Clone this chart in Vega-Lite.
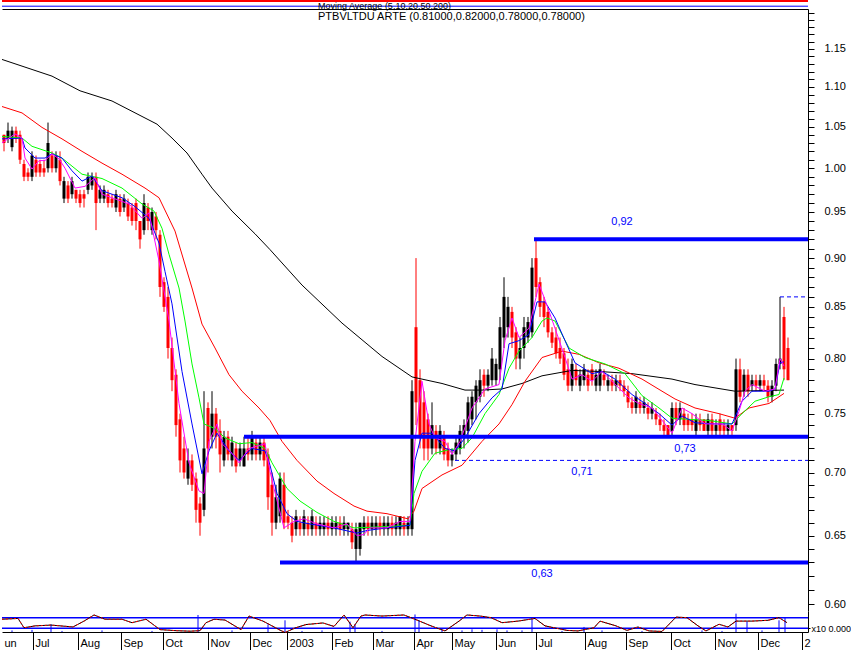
{
  "$schema": "https://vega.github.io/schema/vega-lite/v6.json",
  "background": "white",
  "padding": 0,
  "spacing": 0,
  "bounds": "flush",
  "config": {"view": {"stroke": null}, "font": "Liberation Sans", "scale": {"continuousPadding": 0}},
  "datasets": {
    "bars": [
      {"t":2,"h":1.04,"l":1.02,"o":1.04,"c":1.03},{"t":6,"h":1.055,"l":1.03,"o":1.035,"c":1.045},{"t":10,"h":1.05,"l":1.02,"o":1.025,"c":1.045},{"t":14,"h":1.05,"l":1.03,"o":1.045,"c":1.035},{"t":18,"h":1.045,"l":1.005,"o":1.04,"c":1.01},{"t":22,"h":1.01,"l":0.985,"o":1.005,"c":0.99},{"t":26,"h":1.0,"l":0.985,"o":0.995,"c":0.99},{"t":30,"h":1.02,"l":0.985,"o":0.99,"c":1.015},{"t":34,"h":1.015,"l":0.99,"o":1.01,"c":0.995},{"t":38,"h":1.01,"l":0.99,"o":1.005,"c":0.995},{"t":42,"h":1.01,"l":0.99,"o":1.0,"c":0.995},{"t":46,"h":1.055,"l":0.995,"o":1.0,"c":1.03},{"t":50,"h":1.02,"l":0.995,"o":1.015,"c":1.0},{"t":54,"h":1.02,"l":0.995,"o":1.0,"c":1.015},{"t":58,"h":1.02,"l":0.98,"o":1.01,"c":0.985},{"t":62,"h":0.99,"l":0.96,"o":0.965,"c":0.985},{"t":66,"h":0.985,"l":0.96,"o":0.98,"c":0.965},{"t":70,"h":0.99,"l":0.965,"o":0.97,"c":0.985},{"t":74,"h":0.975,"l":0.96,"o":0.975,"c":0.965},{"t":78,"h":0.975,"l":0.955,"o":0.97,"c":0.96},{"t":82,"h":0.975,"l":0.955,"o":0.97,"c":0.965},{"t":86,"h":0.995,"l":0.97,"o":0.975,"c":0.99},{"t":90,"h":0.995,"l":0.975,"o":0.98,"c":0.99},{"t":94,"h":0.995,"l":0.93,"o":0.99,"c":0.96},{"t":98,"h":0.98,"l":0.96,"o":0.965,"c":0.975},{"t":102,"h":0.98,"l":0.96,"o":0.965,"c":0.975},{"t":106,"h":0.975,"l":0.955,"o":0.97,"c":0.96},{"t":110,"h":0.97,"l":0.955,"o":0.965,"c":0.96},{"t":114,"h":0.975,"l":0.95,"o":0.955,"c":0.97},{"t":118,"h":0.97,"l":0.945,"o":0.965,"c":0.95},{"t":122,"h":0.97,"l":0.95,"o":0.955,"c":0.965},{"t":126,"h":0.965,"l":0.94,"o":0.96,"c":0.945},{"t":130,"h":0.96,"l":0.935,"o":0.955,"c":0.94},
      {"t":134,"h":0.965,"l":0.93,"o":0.96,"c":0.94},{"t":138,"h":0.94,"l":0.91,"o":0.94,"c":0.92},{"t":142,"h":0.97,"l":0.925,"o":0.93,"c":0.96},{"t":146,"h":0.96,"l":0.93,"o":0.955,"c":0.94},{"t":150,"h":0.955,"l":0.925,"o":0.93,"c":0.95},{"t":154,"h":0.95,"l":0.92,"o":0.945,"c":0.93},{"t":158,"h":0.93,"l":0.86,"o":0.925,"c":0.87},{"t":162,"h":0.88,"l":0.845,"o":0.875,"c":0.85},{"t":166,"h":0.87,"l":0.8,"o":0.86,"c":0.81},{"t":170,"h":0.82,"l":0.77,"o":0.81,"c":0.78},{"t":174,"h":0.79,"l":0.73,"o":0.785,"c":0.74},{"t":178,"h":0.75,"l":0.7,"o":0.745,"c":0.71},{"t":182,"h":0.73,"l":0.695,"o":0.72,"c":0.7},{"t":186,"h":0.72,"l":0.69,"o":0.695,"c":0.71},{"t":190,"h":0.715,"l":0.685,"o":0.71,"c":0.69},{"t":194,"h":0.7,"l":0.66,"o":0.695,"c":0.67},{"t":198,"h":0.68,"l":0.65,"o":0.675,"c":0.66},{"t":202,"h":0.77,"l":0.665,"o":0.67,"c":0.72},{"t":206,"h":0.76,"l":0.7,"o":0.755,"c":0.72},{"t":210,"h":0.77,"l":0.72,"o":0.73,"c":0.75},{"t":214,"h":0.755,"l":0.72,"o":0.75,"c":0.73},{"t":218,"h":0.745,"l":0.7,"o":0.735,"c":0.715},{"t":222,"h":0.735,"l":0.705,"o":0.71,"c":0.73},{"t":226,"h":0.735,"l":0.71,"o":0.73,"c":0.715},{"t":230,"h":0.73,"l":0.705,"o":0.71,"c":0.725},{"t":234,"h":0.725,"l":0.7,"o":0.72,"c":0.705},{"t":238,"h":0.725,"l":0.705,"o":0.71,"c":0.72},{"t":242,"h":0.73,"l":0.705,"o":0.705,"c":0.72},{"t":246,"h":0.73,"l":0.71,"o":0.72,"c":0.715},{"t":250,"h":0.735,"l":0.71,"o":0.715,"c":0.73},{"t":254,"h":0.73,"l":0.71,"o":0.725,"c":0.715},{"t":258,"h":0.73,"l":0.71,"o":0.715,"c":0.725},{"t":262,"h":0.73,"l":0.705,"o":0.725,"c":0.71},
      {"t":266,"h":0.72,"l":0.67,"o":0.715,"c":0.68},{"t":270,"h":0.7,"l":0.65,"o":0.69,"c":0.66},{"t":274,"h":0.69,"l":0.655,"o":0.66,"c":0.68},{"t":278,"h":0.7,"l":0.66,"o":0.665,"c":0.695},{"t":282,"h":0.7,"l":0.655,"o":0.69,"c":0.66},{"t":286,"h":0.67,"l":0.655,"o":0.665,"c":0.66},{"t":290,"h":0.665,"l":0.645,"o":0.66,"c":0.65},{"t":294,"h":0.67,"l":0.65,"o":0.655,"c":0.665},{"t":298,"h":0.665,"l":0.65,"o":0.66,"c":0.655},{"t":302,"h":0.67,"l":0.65,"o":0.655,"c":0.665},{"t":306,"h":0.665,"l":0.65,"o":0.66,"c":0.655},{"t":310,"h":0.67,"l":0.65,"o":0.655,"c":0.665},{"t":314,"h":0.665,"l":0.65,"o":0.66,"c":0.655},{"t":318,"h":0.665,"l":0.65,"o":0.655,"c":0.66},{"t":322,"h":0.665,"l":0.65,"o":0.655,"c":0.66},{"t":326,"h":0.665,"l":0.65,"o":0.66,"c":0.655},{"t":330,"h":0.665,"l":0.65,"o":0.655,"c":0.66},{"t":334,"h":0.665,"l":0.65,"o":0.655,"c":0.66},{"t":338,"h":0.665,"l":0.65,"o":0.66,"c":0.655},{"t":342,"h":0.665,"l":0.65,"o":0.655,"c":0.66},{"t":346,"h":0.66,"l":0.65,"o":0.655,"c":0.66},{"t":350,"h":0.66,"l":0.64,"o":0.655,"c":0.645},{"t":354,"h":0.66,"l":0.63,"o":0.64,"c":0.655},{"t":358,"h":0.66,"l":0.635,"o":0.64,"c":0.66},
      {"t":362,"h":0.665,"l":0.65,"o":0.655,"c":0.66},{"t":366,"h":0.665,"l":0.65,"o":0.66,"c":0.655},{"t":370,"h":0.665,"l":0.65,"o":0.655,"c":0.66},{"t":374,"h":0.665,"l":0.65,"o":0.655,"c":0.66},{"t":378,"h":0.665,"l":0.65,"o":0.66,"c":0.655},{"t":382,"h":0.665,"l":0.65,"o":0.655,"c":0.66},{"t":386,"h":0.665,"l":0.65,"o":0.655,"c":0.66},{"t":390,"h":0.665,"l":0.65,"o":0.66,"c":0.655},{"t":394,"h":0.665,"l":0.65,"o":0.655,"c":0.66},{"t":398,"h":0.665,"l":0.65,"o":0.655,"c":0.665},{"t":402,"h":0.665,"l":0.65,"o":0.66,"c":0.655},{"t":406,"h":0.665,"l":0.65,"o":0.655,"c":0.66},
      {"t":410,"h":0.78,"l":0.65,"o":0.655,"c":0.77},{"t":414,"h":0.9,"l":0.74,"o":0.83,"c":0.76},{"t":418,"h":0.79,"l":0.72,"o":0.78,"c":0.73},{"t":422,"h":0.77,"l":0.71,"o":0.76,"c":0.72},{"t":426,"h":0.75,"l":0.71,"o":0.745,"c":0.72},{"t":430,"h":0.76,"l":0.715,"o":0.72,"c":0.74},{"t":434,"h":0.74,"l":0.715,"o":0.735,"c":0.72},{"t":438,"h":0.74,"l":0.715,"o":0.72,"c":0.735},{"t":442,"h":0.735,"l":0.71,"o":0.73,"c":0.715},{"t":446,"h":0.725,"l":0.705,"o":0.72,"c":0.71},{"t":450,"h":0.72,"l":0.705,"o":0.71,"c":0.715},{"t":454,"h":0.73,"l":0.71,"o":0.715,"c":0.725},{"t":458,"h":0.74,"l":0.715,"o":0.72,"c":0.735},{"t":462,"h":0.745,"l":0.72,"o":0.73,"c":0.74},{"t":466,"h":0.765,"l":0.725,"o":0.735,"c":0.76},{"t":470,"h":0.77,"l":0.74,"o":0.745,"c":0.765},{"t":474,"h":0.78,"l":0.745,"o":0.76,"c":0.775},{"t":478,"h":0.79,"l":0.76,"o":0.765,"c":0.78},{"t":482,"h":0.79,"l":0.765,"o":0.785,"c":0.775},{"t":486,"h":0.79,"l":0.77,"o":0.775,"c":0.785},{"t":490,"h":0.81,"l":0.775,"o":0.78,"c":0.8},{"t":494,"h":0.8,"l":0.775,"o":0.78,"c":0.795},{"t":498,"h":0.84,"l":0.78,"o":0.79,"c":0.83},{"t":502,"h":0.88,"l":0.81,"o":0.82,"c":0.86},{"t":506,"h":0.86,"l":0.82,"o":0.83,"c":0.85},{"t":510,"h":0.85,"l":0.81,"o":0.845,"c":0.82},{"t":514,"h":0.83,"l":0.79,"o":0.825,"c":0.8},{"t":518,"h":0.82,"l":0.79,"o":0.8,"c":0.81},{"t":522,"h":0.84,"l":0.8,"o":0.81,"c":0.83},{"t":526,"h":0.84,"l":0.815,"o":0.82,"c":0.835},{"t":530,"h":0.9,"l":0.82,"o":0.825,"c":0.89},{"t":534,"h":0.92,"l":0.86,"o":0.9,"c":0.87},{"t":538,"h":0.88,"l":0.84,"o":0.875,"c":0.85},{"t":542,"h":0.86,"l":0.83,"o":0.855,"c":0.84},{"t":546,"h":0.85,"l":0.82,"o":0.845,"c":0.825},{"t":550,"h":0.83,"l":0.81,"o":0.825,"c":0.815},{"t":554,"h":0.83,"l":0.8,"o":0.82,"c":0.805},{"t":558,"h":0.82,"l":0.795,"o":0.81,"c":0.8},{"t":562,"h":0.81,"l":0.78,"o":0.805,"c":0.785},{"t":566,"h":0.8,"l":0.77,"o":0.79,"c":0.775},{"t":570,"h":0.8,"l":0.77,"o":0.775,"c":0.795},{"t":574,"h":0.795,"l":0.775,"o":0.79,"c":0.78},{"t":578,"h":0.79,"l":0.77,"o":0.775,"c":0.785},{"t":582,"h":0.795,"l":0.775,"o":0.78,"c":0.79},{"t":586,"h":0.79,"l":0.77,"o":0.785,"c":0.775},{"t":590,"h":0.795,"l":0.775,"o":0.79,"c":0.78},{"t":594,"h":0.79,"l":0.77,"o":0.775,"c":0.785},{"t":598,"h":0.795,"l":0.77,"o":0.775,"c":0.79},{"t":602,"h":0.79,"l":0.775,"o":0.785,"c":0.78},{"t":606,"h":0.785,"l":0.77,"o":0.775,"c":0.78},{"t":610,"h":0.785,"l":0.77,"o":0.78,"c":0.775},{"t":614,"h":0.785,"l":0.77,"o":0.775,"c":0.78},{"t":618,"h":0.785,"l":0.77,"o":0.78,"c":0.775},{"t":622,"h":0.78,"l":0.765,"o":0.775,"c":0.77},{"t":626,"h":0.775,"l":0.755,"o":0.77,"c":0.76},{"t":630,"h":0.765,"l":0.75,"o":0.76,"c":0.755},{"t":634,"h":0.77,"l":0.75,"o":0.755,"c":0.765},{"t":638,"h":0.765,"l":0.75,"o":0.76,"c":0.755},{"t":642,"h":0.765,"l":0.75,"o":0.755,"c":0.76},{"t":646,"h":0.76,"l":0.745,"o":0.755,"c":0.75},{"t":650,"h":0.76,"l":0.745,"o":0.75,"c":0.755},{"t":654,"h":0.755,"l":0.74,"o":0.75,"c":0.745},{"t":658,"h":0.75,"l":0.735,"o":0.745,"c":0.74},{"t":662,"h":0.745,"l":0.73,"o":0.74,"c":0.735},{"t":666,"h":0.74,"l":0.73,"o":0.74,"c":0.73},{"t":670,"h":0.76,"l":0.73,"o":0.735,"c":0.755},{"t":674,"h":0.76,"l":0.74,"o":0.755,"c":0.745},{"t":678,"h":0.76,"l":0.74,"o":0.745,"c":0.755},{"t":682,"h":0.755,"l":0.735,"o":0.75,"c":0.74},{"t":686,"h":0.75,"l":0.735,"o":0.745,"c":0.74},{"t":690,"h":0.75,"l":0.735,"o":0.745,"c":0.74},{"t":694,"h":0.75,"l":0.73,"o":0.735,"c":0.745},{"t":698,"h":0.75,"l":0.735,"o":0.745,"c":0.74},{"t":702,"h":0.745,"l":0.735,"o":0.745,"c":0.735},{"t":706,"h":0.75,"l":0.73,"o":0.735,"c":0.745},{"t":710,"h":0.75,"l":0.73,"o":0.745,"c":0.735},{"t":714,"h":0.745,"l":0.73,"o":0.735,"c":0.74},{"t":718,"h":0.75,"l":0.73,"o":0.745,"c":0.735},{"t":722,"h":0.745,"l":0.73,"o":0.74,"c":0.735},{"t":726,"h":0.745,"l":0.73,"o":0.735,"c":0.74},{"t":730,"h":0.74,"l":0.73,"o":0.74,"c":0.735},{"t":734,"h":0.8,"l":0.735,"o":0.74,"c":0.79},{"t":738,"h":0.8,"l":0.76,"o":0.79,"c":0.765},{"t":742,"h":0.79,"l":0.765,"o":0.77,"c":0.785},{"t":746,"h":0.79,"l":0.765,"o":0.785,"c":0.77},{"t":750,"h":0.785,"l":0.77,"o":0.775,"c":0.78},{"t":754,"h":0.785,"l":0.77,"o":0.78,"c":0.775},{"t":758,"h":0.785,"l":0.77,"o":0.775,"c":0.78},{"t":762,"h":0.785,"l":0.77,"o":0.78,"c":0.775},{"t":766,"h":0.78,"l":0.76,"o":0.775,"c":0.765},{"t":770,"h":0.78,"l":0.76,"o":0.765,"c":0.775},{"t":774,"h":0.8,"l":0.77,"o":0.775,"c":0.795},{"t":778,"h":0.86,"l":0.79,"o":0.795,"c":0.8},{"t":782,"h":0.85,"l":0.78,"o":0.84,"c":0.79},{"t":786,"h":0.82,"l":0.78,"o":0.81,"c":0.78}
    ],
    "ma": [
      {"s":"ma200","t":0,"v":1.136},{"s":"ma200","t":50,"v":1.114},{"s":"ma200","t":78,"v":1.095},{"s":"ma200","t":110,"v":1.082},{"s":"ma200","t":155,"v":1.053},{"s":"ma200","t":170,"v":1.036},{"s":"ma200","t":185,"v":1.018},{"s":"ma200","t":200,"v":0.993},{"s":"ma200","t":210,"v":0.977},{"s":"ma200","t":230,"v":0.951},{"s":"ma200","t":253,"v":0.926},{"s":"ma200","t":268,"v":0.909},{"s":"ma200","t":300,"v":0.872},{"s":"ma200","t":340,"v":0.834},{"s":"ma200","t":380,"v":0.802},{"s":"ma200","t":410,"v":0.783},{"s":"ma200","t":440,"v":0.777},{"s":"ma200","t":463,"v":0.771},{"s":"ma200","t":480,"v":0.771},{"s":"ma200","t":500,"v":0.772},{"s":"ma200","t":520,"v":0.777},{"s":"ma200","t":540,"v":0.784},{"s":"ma200","t":570,"v":0.789},{"s":"ma200","t":597,"v":0.788},{"s":"ma200","t":630,"v":0.786},{"s":"ma200","t":670,"v":0.781},{"s":"ma200","t":693,"v":0.776},{"s":"ma200","t":733,"v":0.770},{"s":"ma200","t":782,"v":0.771},
      {"s":"ma50","t":0,"v":1.075},{"s":"ma50","t":20,"v":1.067},{"s":"ma50","t":40,"v":1.049},{"s":"ma50","t":60,"v":1.035},{"s":"ma50","t":80,"v":1.020},{"s":"ma50","t":100,"v":1.006},{"s":"ma50","t":120,"v":0.993},{"s":"ma50","t":143,"v":0.977},{"s":"ma50","t":157,"v":0.966},{"s":"ma50","t":173,"v":0.929},{"s":"ma50","t":190,"v":0.869},{"s":"ma50","t":200,"v":0.833},{"s":"ma50","t":213,"v":0.810},{"s":"ma50","t":227,"v":0.785},{"s":"ma50","t":240,"v":0.770},{"s":"ma50","t":257,"v":0.755},{"s":"ma50","t":268,"v":0.744},{"s":"ma50","t":280,"v":0.726},{"s":"ma50","t":295,"v":0.710},{"s":"ma50","t":315,"v":0.693},{"s":"ma50","t":332,"v":0.683},{"s":"ma50","t":352,"v":0.673},{"s":"ma50","t":365,"v":0.669},{"s":"ma50","t":385,"v":0.667},{"s":"ma50","t":406,"v":0.663},{"s":"ma50","t":412,"v":0.669},{"s":"ma50","t":420,"v":0.687},{"s":"ma50","t":440,"v":0.698},{"s":"ma50","t":460,"v":0.706},{"s":"ma50","t":480,"v":0.726},{"s":"ma50","t":497,"v":0.741},{"s":"ma50","t":510,"v":0.758},{"s":"ma50","t":523,"v":0.779},{"s":"ma50","t":540,"v":0.801},{"s":"ma50","t":560,"v":0.807},{"s":"ma50","t":577,"v":0.804},{"s":"ma50","t":597,"v":0.796},{"s":"ma50","t":617,"v":0.791},{"s":"ma50","t":640,"v":0.781},{"s":"ma50","t":660,"v":0.770},{"s":"ma50","t":673,"v":0.763},{"s":"ma50","t":693,"v":0.755},{"s":"ma50","t":717,"v":0.750},{"s":"ma50","t":733,"v":0.746},{"s":"ma50","t":747,"v":0.755},{"s":"ma50","t":767,"v":0.759},{"s":"ma50","t":782,"v":0.768},
      {"s":"ma20","t":0,"v":1.038},{"s":"ma20","t":20,"v":1.036},{"s":"ma20","t":30,"v":1.026},{"s":"ma20","t":50,"v":1.018},{"s":"ma20","t":60,"v":1.012},{"s":"ma20","t":80,"v":0.993},{"s":"ma20","t":100,"v":0.988},{"s":"ma20","t":120,"v":0.977},{"s":"ma20","t":140,"v":0.959},{"s":"ma20","t":152,"v":0.951},{"s":"ma20","t":160,"v":0.932},{"s":"ma20","t":167,"v":0.904},{"s":"ma20","t":177,"v":0.869},{"s":"ma20","t":183,"v":0.836},{"s":"ma20","t":190,"v":0.795},{"s":"ma20","t":197,"v":0.764},{"s":"ma20","t":202,"v":0.741},{"s":"ma20","t":213,"v":0.737},{"s":"ma20","t":223,"v":0.729},{"s":"ma20","t":237,"v":0.724},{"s":"ma20","t":250,"v":0.725},{"s":"ma20","t":263,"v":0.720},{"s":"ma20","t":270,"v":0.708},{"s":"ma20","t":285,"v":0.687},{"s":"ma20","t":298,"v":0.677},{"s":"ma20","t":315,"v":0.668},{"s":"ma20","t":332,"v":0.661},{"s":"ma20","t":352,"v":0.656},{"s":"ma20","t":385,"v":0.657},{"s":"ma20","t":408,"v":0.658},{"s":"ma20","t":412,"v":0.683},{"s":"ma20","t":420,"v":0.701},{"s":"ma20","t":433,"v":0.716},{"s":"ma20","t":447,"v":0.719},{"s":"ma20","t":460,"v":0.720},{"s":"ma20","t":470,"v":0.729},{"s":"ma20","t":483,"v":0.750},{"s":"ma20","t":497,"v":0.767},{"s":"ma20","t":507,"v":0.791},{"s":"ma20","t":517,"v":0.807},{"s":"ma20","t":530,"v":0.820},{"s":"ma20","t":540,"v":0.836},{"s":"ma20","t":545,"v":0.839},{"s":"ma20","t":553,"v":0.836},{"s":"ma20","t":567,"v":0.810},{"s":"ma20","t":583,"v":0.801},{"s":"ma20","t":603,"v":0.795},{"s":"ma20","t":623,"v":0.786},{"s":"ma20","t":640,"v":0.766},{"s":"ma20","t":657,"v":0.755},{"s":"ma20","t":670,"v":0.746},{"s":"ma20","t":687,"v":0.745},{"s":"ma20","t":707,"v":0.744},{"s":"ma20","t":730,"v":0.741},{"s":"ma20","t":740,"v":0.750},{"s":"ma20","t":753,"v":0.761},{"s":"ma20","t":767,"v":0.765},{"s":"ma20","t":777,"v":0.767},{"s":"ma20","t":782,"v":0.782},
      {"s":"ma10","t":0,"v":1.035},{"s":"ma10","t":20,"v":1.036},{"s":"ma10","t":23,"v":1.024},{"s":"ma10","t":33,"v":1.012},{"s":"ma10","t":43,"v":1.012},{"s":"ma10","t":50,"v":1.017},{"s":"ma10","t":60,"v":1.012},{"s":"ma10","t":70,"v":0.997},{"s":"ma10","t":80,"v":0.985},{"s":"ma10","t":90,"v":0.991},{"s":"ma10","t":100,"v":0.974},{"s":"ma10","t":120,"v":0.966},{"s":"ma10","t":133,"v":0.956},{"s":"ma10","t":147,"v":0.943},{"s":"ma10","t":157,"v":0.916},{"s":"ma10","t":163,"v":0.886},{"s":"ma10","t":170,"v":0.853},{"s":"ma10","t":180,"v":0.788},{"s":"ma10","t":190,"v":0.741},{"s":"ma10","t":200,"v":0.699},{"s":"ma10","t":207,"v":0.718},{"s":"ma10","t":215,"v":0.733},{"s":"ma10","t":227,"v":0.718},{"s":"ma10","t":237,"v":0.710},{"s":"ma10","t":250,"v":0.720},{"s":"ma10","t":263,"v":0.718},{"s":"ma10","t":268,"v":0.706},{"s":"ma10","t":275,"v":0.683},{"s":"ma10","t":285,"v":0.667},{"s":"ma10","t":295,"v":0.661},{"s":"ma10","t":308,"v":0.659},{"s":"ma10","t":332,"v":0.656},{"s":"ma10","t":355,"v":0.652},{"s":"ma10","t":365,"v":0.654},{"s":"ma10","t":385,"v":0.656},{"s":"ma10","t":408,"v":0.658},{"s":"ma10","t":413,"v":0.710},{"s":"ma10","t":420,"v":0.733},{"s":"ma10","t":430,"v":0.733},{"s":"ma10","t":443,"v":0.720},{"s":"ma10","t":453,"v":0.718},{"s":"ma10","t":463,"v":0.729},{"s":"ma10","t":477,"v":0.750},{"s":"ma10","t":490,"v":0.764},{"s":"ma10","t":500,"v":0.772},{"s":"ma10","t":507,"v":0.814},{"s":"ma10","t":517,"v":0.817},{"s":"ma10","t":527,"v":0.823},{"s":"ma10","t":535,"v":0.855},{"s":"ma10","t":543,"v":0.855},{"s":"ma10","t":553,"v":0.839},{"s":"ma10","t":563,"v":0.817},{"s":"ma10","t":573,"v":0.796},{"s":"ma10","t":590,"v":0.786},{"s":"ma10","t":600,"v":0.788},{"s":"ma10","t":613,"v":0.781},{"s":"ma10","t":630,"v":0.767},{"s":"ma10","t":643,"v":0.759},{"s":"ma10","t":657,"v":0.750},{"s":"ma10","t":670,"v":0.740},{"s":"ma10","t":680,"v":0.748},{"s":"ma10","t":693,"v":0.742},{"s":"ma10","t":713,"v":0.741},{"s":"ma10","t":730,"v":0.741},{"s":"ma10","t":740,"v":0.761},{"s":"ma10","t":750,"v":0.770},{"s":"ma10","t":767,"v":0.770},{"s":"ma10","t":773,"v":0.772},{"s":"ma10","t":778,"v":0.796},{"s":"ma10","t":782,"v":0.797},
      {"s":"ma5","t":0,"v":1.030},{"s":"ma5","t":13,"v":1.041},{"s":"ma5","t":20,"v":1.036},{"s":"ma5","t":23,"v":1.012},{"s":"ma5","t":30,"v":0.999},{"s":"ma5","t":37,"v":1.009},{"s":"ma5","t":43,"v":1.009},{"s":"ma5","t":50,"v":1.017},{"s":"ma5","t":57,"v":1.011},{"s":"ma5","t":63,"v":1.000},{"s":"ma5","t":73,"v":0.977},{"s":"ma5","t":83,"v":0.979},{"s":"ma5","t":93,"v":0.989},{"s":"ma5","t":100,"v":0.970},{"s":"ma5","t":110,"v":0.966},{"s":"ma5","t":127,"v":0.959},{"s":"ma5","t":140,"v":0.943},{"s":"ma5","t":147,"v":0.949},{"s":"ma5","t":157,"v":0.897},{"s":"ma5","t":162,"v":0.866},{"s":"ma5","t":167,"v":0.836},{"s":"ma5","t":177,"v":0.759},{"s":"ma5","t":187,"v":0.708},{"s":"ma5","t":197,"v":0.685},{"s":"ma5","t":202,"v":0.683},{"s":"ma5","t":207,"v":0.726},{"s":"ma5","t":215,"v":0.741},{"s":"ma5","t":220,"v":0.724},{"s":"ma5","t":230,"v":0.716},{"s":"ma5","t":237,"v":0.708},{"s":"ma5","t":247,"v":0.720},{"s":"ma5","t":263,"v":0.724},{"s":"ma5","t":268,"v":0.701},{"s":"ma5","t":272,"v":0.687},{"s":"ma5","t":282,"v":0.656},{"s":"ma5","t":292,"v":0.661},{"s":"ma5","t":302,"v":0.663},{"s":"ma5","t":315,"v":0.659},{"s":"ma5","t":332,"v":0.656},{"s":"ma5","t":345,"v":0.659},{"s":"ma5","t":355,"v":0.650},{"s":"ma5","t":362,"v":0.651},{"s":"ma5","t":368,"v":0.656},{"s":"ma5","t":385,"v":0.656},{"s":"ma5","t":398,"v":0.661},{"s":"ma5","t":408,"v":0.661},{"s":"ma5","t":413,"v":0.726},{"s":"ma5","t":420,"v":0.779},{"s":"ma5","t":427,"v":0.741},{"s":"ma5","t":433,"v":0.729},{"s":"ma5","t":443,"v":0.726},{"s":"ma5","t":450,"v":0.715},{"s":"ma5","t":458,"v":0.726},{"s":"ma5","t":470,"v":0.755},{"s":"ma5","t":483,"v":0.772},{"s":"ma5","t":497,"v":0.776},{"s":"ma5","t":503,"v":0.817},{"s":"ma5","t":510,"v":0.839},{"s":"ma5","t":517,"v":0.820},{"s":"ma5","t":527,"v":0.829},{"s":"ma5","t":537,"v":0.873},{"s":"ma5","t":543,"v":0.857},{"s":"ma5","t":553,"v":0.829},{"s":"ma5","t":563,"v":0.801},{"s":"ma5","t":570,"v":0.781},{"s":"ma5","t":580,"v":0.785},{"s":"ma5","t":590,"v":0.779},{"s":"ma5","t":600,"v":0.788},{"s":"ma5","t":610,"v":0.779},{"s":"ma5","t":627,"v":0.764},{"s":"ma5","t":637,"v":0.759},{"s":"ma5","t":650,"v":0.755},{"s":"ma5","t":663,"v":0.741},{"s":"ma5","t":670,"v":0.733},{"s":"ma5","t":680,"v":0.755},{"s":"ma5","t":690,"v":0.750},{"s":"ma5","t":703,"v":0.741},{"s":"ma5","t":720,"v":0.741},{"s":"ma5","t":730,"v":0.735},{"s":"ma5","t":737,"v":0.752},{"s":"ma5","t":743,"v":0.770},{"s":"ma5","t":750,"v":0.776},{"s":"ma5","t":763,"v":0.770},{"s":"ma5","t":773,"v":0.772},{"s":"ma5","t":778,"v":0.800},{"s":"ma5","t":782,"v":0.793}
    ],
    "levels": [
      {"v":0.92,"t0":532,"t1":806},{"v":0.73,"t0":242,"t1":806},{"v":0.63,"t0":278,"t1":806}
    ],
    "dashed": [
      {"v":0.71,"t0":453,"t1":806},{"v":0.86,"t0":778,"t1":806}
    ],
    "labels": [
      {"v":0.92,"tl":620,"lab":"0,92"},{"v":0.73,"tl":683,"lab":"0,73"},{"v":0.71,"tl":580,"lab":"0,71"},{"v":0.63,"tl":540,"lab":"0,63"}
    ],
    "osc": [
      {"t":0,"v":64},{"t":16,"v":67},{"t":22,"v":32},{"t":33,"v":39},{"t":49,"v":42},{"t":71,"v":35},{"t":82,"v":57},{"t":92,"v":80},{"t":103,"v":64},{"t":120,"v":64},{"t":130,"v":51},{"t":144,"v":64},{"t":158,"v":25},{"t":174,"v":21},{"t":188,"v":19},{"t":198,"v":21},{"t":204,"v":51},{"t":212,"v":64},{"t":223,"v":61},{"t":239,"v":25},{"t":247,"v":76},{"t":261,"v":57},{"t":277,"v":25},{"t":283,"v":14},{"t":293,"v":31},{"t":304,"v":44},{"t":321,"v":50},{"t":332,"v":37},{"t":342,"v":80},{"t":351,"v":32},{"t":359,"v":76},{"t":363,"v":80},{"t":380,"v":76},{"t":402,"v":80},{"t":413,"v":64},{"t":429,"v":39},{"t":443,"v":20},{"t":457,"v":57},{"t":465,"v":80},{"t":478,"v":76},{"t":489,"v":70},{"t":500,"v":51},{"t":516,"v":57},{"t":533,"v":67},{"t":543,"v":39},{"t":565,"v":22},{"t":576,"v":20},{"t":592,"v":32},{"t":598,"v":57},{"t":614,"v":39},{"t":625,"v":22},{"t":636,"v":35},{"t":647,"v":20},{"t":660,"v":18},{"t":674,"v":72},{"t":685,"v":70},{"t":696,"v":39},{"t":704,"v":20},{"t":717,"v":45},{"t":726,"v":35},{"t":734,"v":57},{"t":750,"v":57},{"t":766,"v":60},{"t":777,"v":70},{"t":785,"v":51}
    ],
    "vol": [
      {"t":10,"v":22},{"t":30,"v":24},{"t":49,"v":45},{"t":60,"v":20},{"t":100,"v":22},{"t":150,"v":20},{"t":196,"v":80},{"t":230,"v":22},{"t":266,"v":45},{"t":283,"v":60},{"t":300,"v":20},{"t":320,"v":22},{"t":348,"v":55},{"t":353,"v":45},{"t":380,"v":20},{"t":413,"v":82},{"t":417,"v":60},{"t":440,"v":24},{"t":460,"v":22},{"t":470,"v":26},{"t":480,"v":24},{"t":495,"v":26},{"t":505,"v":22},{"t":520,"v":22},{"t":530,"v":70},{"t":560,"v":20},{"t":582,"v":35},{"t":600,"v":22},{"t":640,"v":20},{"t":700,"v":22},{"t":720,"v":20},{"t":734,"v":85},{"t":745,"v":55},{"t":760,"v":22},{"t":777,"v":60},{"t":783,"v":70}
    ]
  },
  "vconcat": [
    {
      "width": 806, "height": 8,
      "data": {"values": [{"k": 1, "b": 0.35}]},
      "layer": [
        {"mark": {"type": "rule", "color": "#ff0000", "strokeWidth": 2},
         "encoding": {"y": {"field": "k", "type": "quantitative", "scale": {"domain": [0, 1]}, "axis": {"title": null, "labels": false, "ticks": false, "domain": false, "grid": false}}}},
        {"mark": {"type": "rule", "color": "#0000ff", "strokeWidth": 1},
         "encoding": {"y": {"field": "b", "type": "quantitative"}}}
      ]
    },
    {
      "width": 806, "height": 602,
      "title": {
        "text": "Moving Average (5,10,20,50,200)",
        "subtitle": "PTBVLTDU ARTE (0.81000,0.82000,0.78000,0.78000)",
        "anchor": "start", "dx": 318, "offset": -15,
        "font": "Liberation Sans", "subtitleFont": "Liberation Sans",
        "fontSize": 9, "subtitleFontSize": 11, "fontWeight": "normal",
        "color": "#000000", "subtitleColor": "#000000", "subtitlePadding": 0
      },
      "layer": [
        {
          "data": {"name": "bars"},
          "mark": {"type": "rule", "strokeWidth": 1},
          "encoding": {
            "x": {"field": "t", "type": "quantitative", "scale": {"domain": [0, 806], "nice": false, "zero": false, "padding": 0},
                  "axis": {"orient": "top", "labels": false, "ticks": false, "domain": true, "domainColor": "#000000", "domainWidth": 1, "title": null, "grid": false}},
            "y": {"field": "l", "type": "quantitative", "scale": {"type": "log", "domain": [0.5951, 1.2052], "nice": false, "zero": false, "padding": 0},
                  "axis": {"orient": "right", "title": null, "grid": false, "domain": true, "domainColor": "#000000", "tickColor": "#000000", "tickSize": 6,
                           "values": [0.60,0.61,0.62,0.63,0.64,0.65,0.66,0.67,0.68,0.69,0.70,0.71,0.72,0.73,0.74,0.75,0.76,0.77,0.78,0.79,0.80,0.81,0.82,0.83,0.84,0.85,0.86,0.87,0.88,0.89,0.90,0.91,0.92,0.93,0.94,0.95,0.96,0.97,0.98,0.99,1.00,1.01,1.02,1.03,1.04,1.05,1.06,1.07,1.08,1.09,1.10,1.11,1.12,1.13,1.14,1.15,1.16,1.17,1.18,1.19,1.20],
                           "labelExpr": "(datum.value < 1.18 && abs(datum.value*20 - round(datum.value*20)) < 0.01) ? format(datum.value, '.2f') : ''",
                           "labelOverlap": false, "labelPadding": 10, "labelFontSize": 11, "labelColor": "#000000", "labelFont": "Liberation Sans", "labelBaseline": "middle"}},
            "y2": {"field": "h"},
            "color": {"condition": {"test": "datum.c >= datum.o", "value": "#000000"}, "value": "#ff0000"}
          }
        },
        {
          "data": {"name": "bars"},
          "mark": {"type": "bar", "width": 3},
          "encoding": {
            "x": {"field": "t", "type": "quantitative"},
            "y": {"field": "o", "type": "quantitative"},
            "y2": {"field": "c"},
            "color": {"condition": {"test": "datum.c >= datum.o", "value": "#000000"}, "value": "#ff0000"}
          }
        },
        {
          "data": {"name": "ma"},
          "mark": {"type": "line", "strokeWidth": 1},
          "encoding": {
            "x": {"field": "t", "type": "quantitative"},
            "y": {"field": "v", "type": "quantitative"},
            "color": {"field": "s", "type": "nominal", "legend": null,
                      "scale": {"domain": ["ma200", "ma50", "ma20", "ma10", "ma5"], "range": ["#000000", "#ff0000", "#00ff00", "#0000ff", "#ff00ff"]}}
          }
        },
        {
          "data": {"name": "levels"},
          "mark": {"type": "rule", "color": "#0000ff", "strokeWidth": 4},
          "encoding": {
            "x": {"field": "t0", "type": "quantitative"},
            "x2": {"field": "t1"},
            "y": {"field": "v", "type": "quantitative"}
          }
        },
        {
          "data": {"name": "dashed"},
          "mark": {"type": "rule", "color": "#0000ff", "strokeWidth": 1, "strokeDash": [4, 3]},
          "encoding": {
            "x": {"field": "t0", "type": "quantitative"},
            "x2": {"field": "t1"},
            "y": {"field": "v", "type": "quantitative"}
          }
        },
        {
          "data": {"name": "labels"},
          "transform": [{"filter": "datum.v > 0.9"}],
          "mark": {"type": "text", "color": "#0000ff", "fontSize": 11, "font": "Liberation Sans", "align": "center", "baseline": "middle", "dy": -17},
          "encoding": {
            "x": {"field": "tl", "type": "quantitative"},
            "y": {"field": "v", "type": "quantitative"},
            "text": {"field": "lab"}
          }
        },
        {
          "data": {"name": "labels"},
          "transform": [{"filter": "datum.v < 0.9"}],
          "mark": {"type": "text", "color": "#0000ff", "fontSize": 11, "font": "Liberation Sans", "align": "center", "baseline": "middle", "dy": 12},
          "encoding": {
            "x": {"field": "tl", "type": "quantitative"},
            "y": {"field": "v", "type": "quantitative"},
            "text": {"field": "lab"}
          }
        }
      ]
    },
    {
      "width": 806, "height": 21,
      "layer": [
        {
          "data": {"name": "vol"},
          "mark": {"type": "rule", "color": "#0000ff", "strokeWidth": 1},
          "encoding": {
            "x": {"field": "t", "type": "quantitative", "scale": {"domain": [0, 806], "nice": false, "zero": false, "padding": 0},
                  "axis": {"orient": "bottom", "title": null, "grid": false, "domain": true, "domainColor": "#000000", "tickColor": "#000000",
                           "values": [0,31,76,119,161,206,248,285,330,371,412,450,494,534,583,624,669,713,756,800],
                           "labelExpr": "['un','Jul','Aug','Sep','Oct','Nov','Dec','2003','Feb','Mar','Apr','May','Jun','Jul','Aug','Sep','Oct','Nov','Dec','2'][indexof([0,31,76,119,161,206,248,285,330,371,412,450,494,534,583,624,669,713,756,800], datum.value)]",
                           "tickSize": 18,
                           "tickOpacity": {"condition": {"test": "datum.value == 0", "value": 0}, "value": 1},
                           "labelAlign": "left", "labelBaseline": "top", "labelPadding": -13, "labelOffset": 2,
                           "labelFontSize": 11, "labelColor": "#000000", "labelFont": "Liberation Sans",
                           "labelOverlap": false, "labelFlush": false, "labelBound": false}},
            "y": {"field": "v", "type": "quantitative", "scale": {"domain": [16, 95], "nice": false, "zero": false},
                  "axis": {"orient": "right", "title": null, "grid": false, "values": [30], "labelExpr": "'x10 0.000'", "tickSize": 2, "labelPadding": 1,
                           "domain": true, "domainColor": "#000000", "tickColor": "#000000", "labelFontSize": 9, "labelColor": "#000000", "labelFont": "Liberation Sans"}},
            "y2": {"datum": 16}
          }
        },
        {
          "data": {"values": [{"k": 70}, {"k": 30}]},
          "mark": {"type": "rule", "color": "#0000ff", "strokeWidth": 1.5},
          "encoding": {"y": {"field": "k", "type": "quantitative"}}
        },
        {
          "data": {"name": "osc"},
          "mark": {"type": "line", "color": "#000000", "strokeWidth": 1},
          "encoding": {
            "x": {"field": "t", "type": "quantitative"},
            "y": {"field": "v", "type": "quantitative"}
          }
        },
        {
          "data": {"name": "osc"},
          "mark": {"type": "line", "color": "#ff0000", "strokeWidth": 1, "strokeDash": [2, 2]},
          "encoding": {
            "x": {"field": "t", "type": "quantitative"},
            "y": {"field": "v", "type": "quantitative"}
          }
        }
      ]
    }
  ]
}
